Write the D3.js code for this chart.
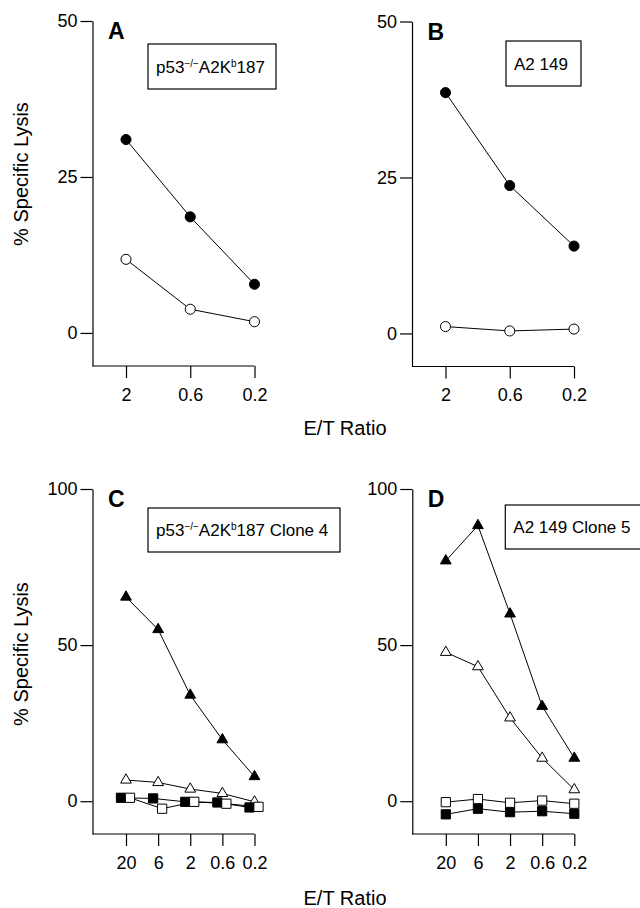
<!DOCTYPE html>
<html>
<head>
<meta charset="utf-8">
<script src="https://cdn.jsdelivr.net/npm/d3@7"></script>
<style>
  body { margin: 0; background: #fff; }
  svg { display: block; font-family: "Liberation Sans", Arial, Helvetica, sans-serif; }
  .axis path, .axis line { stroke: #000; stroke-width: 1.2px; }
  .axis text { font-size: 18px; fill: #000; }
</style>
</head>
<body>
<div id="chart"></div>
<script>
// E/T ratios and y ticks
const ratiosTop = ["2", "0.6", "0.2"];
const ratiosBottom = ["20", "6", "2", "0.6", "0.2"];
const ticksTop = [0, 25, 50];
const ticksBottom = [0, 50, 100];

// A : p53-/- A2Kb187
const aFilledCircle = [31, 18.6, 7.8];
const aOpenCircle = [11.8, 3.8, 1.8];

// B : A2 149
const bFilledCircle = [38.6, 23.7, 14.0];
const bOpenCircle = [1.1, 0.4, 0.7];

// C : p53-/- A2Kb187 Clone 4
const cFilledTri = [65.4, 55, 34, 19.7, 7.9];
const cOpenTri = [6.8, 6.0, 3.9, 2.5, -0.2];
const cFilledSq = [1.1, 0.9, -0.2, -0.4, -2.0];
const cOpenSq = [1.1, -2.4, -0.2, -0.8, -1.8];

// D : A2 149 Clone 5
const dFilledTri = [77, 88.3, 60, 30.4, 13.8];
const dOpenTri = [47.7, 43.1, 26.7, 13.8, 3.7];
const dOpenSq = [-0.3, 0.7, -0.5, 0.2, -0.8];
const dFilledSq = [-4.2, -2.4, -3.5, -3.2, -4.0];

// box labels, sup = superscript
const labelA = [{ t: "p53" }, { t: "−/−", sup: true }, { t: "A2K" }, { t: "b", sup: true }, { t: "187" }];
const labelB = [{ t: "A2 149" }];
const labelC = labelA.concat([{ t: " Clone 4" }]);
const labelD = [{ t: "A2 149 Clone 5" }];

const width = 640, height = 908;

const svg = d3.select("#chart").append("svg")
    .attr("width", width)
    .attr("height", height);

function Panel(opts) {
	this.left = opts.left;
	this.top = opts.top;
	this.w = 162;
	this.h = 345;
	this.opts = opts;
};

Panel.prototype = {
	constructor: Panel,

	draw: function() {
		let self = this;
		let o = self.opts;

		let g = svg.append("g")
			.attr("transform", "translate(" + self.left + "," + self.top + ")");

		let x = d3.scalePoint()
			.domain(o.ratios)
			.range([33.5, self.w]);

		let y = d3.scaleLinear()
			.domain(o.yDomain)
			.range([self.h, 0]);

		// y axis
		g.append("g")
			.attr("class", "axis")
			.call(d3.axisLeft(y).tickValues(o.ticks).tickSize(12).tickSizeOuter(0).tickPadding(3));

		// x axis, line runs from the y axis to the last tick
		g.append("line")
			.attr("x1", 0).attr("x2", self.w)
			.attr("y1", self.h).attr("y2", self.h)
			.attr("stroke", "#000")
			.attr("stroke-width", 1.2);

		let xa = g.append("g")
			.attr("class", "axis")
			.attr("transform", "translate(0," + self.h + ")")
			.call(d3.axisBottom(x).tickSize(12).tickPadding(10));
		xa.select(".domain").remove();

		// series
		o.series.forEach(function(s) {
			let pts = s.values.map(function(v, i) {
				return [x(o.ratios[i]) + (s.dx || 0), y(v)];
			});

			g.append("path")
				.attr("d", d3.line()(pts))
				.attr("fill", "none")
				.attr("stroke", "#000")
				.attr("stroke-width", 1);

			let sym = d3.symbol().type(s.type).size(s.size);

			g.selectAll(null)
				.data(pts)
				.enter()
				.append("path")
				.attr("d", sym)
				.attr("transform", function(d) { return "translate(" + d[0] + "," + d[1] + ")"; })
				.attr("fill", s.filled ? "#000" : "#fff")
				.attr("stroke", "#000")
				.attr("stroke-width", 1);
		});

		// panel letter
		g.append("text")
			.attr("x", 15.5)
			.attr("y", 18)
			.attr("font-size", 23)
			.attr("font-weight", "bold")
			.text(o.letter);

		// label box
		let b = o.box;
		g.append("rect")
			.attr("x", b.x).attr("y", b.y)
			.attr("width", b.w).attr("height", b.h)
			.attr("fill", "#fff")
			.attr("stroke", "#000")
			.attr("stroke-width", 1.2);

		let t = g.append("text")
			.attr("x", b.x + 8)
			.attr("y", b.y + b.h / 2 + 6)
			.attr("font-size", 17);

		let shifted = false;
		o.label.forEach(function(p) {
			let ts = t.append("tspan").text(p.t);
			if (p.sup) {
				ts.attr("font-size", 10).attr("dy", -6);
				shifted = true;
			} else if (shifted) {
				ts.attr("dy", 6);
				shifted = false;
			}
		});
	}
};

let circle = d3.symbolCircle, tri = d3.symbolTriangle, sq = d3.symbolSquare;

let panels = [
	new Panel({ left: 92.5, top: 21, letter: "A", ratios: ratiosTop, ticks: ticksTop, yDomain: [-5.3, 50],
		box: { x: 55.5, y: 23, w: 128, h: 45 }, label: labelA,
		series: [
			{ values: aFilledCircle, type: circle, size: 80, filled: true },
			{ values: aOpenCircle, type: circle, size: 80, filled: false }
		] }),
	new Panel({ left: 412, top: 21.5, letter: "B", ratios: ratiosTop, ticks: ticksTop, yDomain: [-5.3, 50],
		box: { x: 94, y: 19.5, w: 75, h: 45 }, label: labelB,
		series: [
			{ values: bFilledCircle, type: circle, size: 80, filled: true },
			{ values: bOpenCircle, type: circle, size: 80, filled: false }
		] }),
	new Panel({ left: 92.5, top: 489, letter: "C", ratios: ratiosBottom, ticks: ticksBottom, yDomain: [-10.5, 100],
		box: { x: 55.5, y: 19, w: 192, h: 44 }, label: labelC,
		series: [
			{ values: cFilledTri, type: tri, size: 50, filled: true },
			{ values: cOpenTri, type: tri, size: 50, filled: false },
			{ values: cFilledSq, type: sq, size: 85, filled: true, dx: -5 },
			{ values: cOpenSq, type: sq, size: 85, filled: false, dx: 4 }
		] }),
	new Panel({ left: 412.3, top: 489, letter: "D", ratios: ratiosBottom, ticks: ticksBottom, yDomain: [-10.5, 100],
		box: { x: 93, y: 16, w: 240, h: 44 }, label: labelD,
		series: [
			{ values: dFilledTri, type: tri, size: 50, filled: true },
			{ values: dOpenTri, type: tri, size: 50, filled: false },
			{ values: dFilledSq, type: sq, size: 85, filled: true },
			{ values: dOpenSq, type: sq, size: 85, filled: false }
		] })
];

panels.forEach(function(p) { p.draw(); });

// shared axis titles
[174, 654].forEach(function(cy) {
	svg.append("text")
		.attr("transform", "translate(28," + cy + ") rotate(-90)")
		.attr("text-anchor", "middle")
		.attr("font-size", 20)
		.text("% Specific Lysis");
});

[435, 905].forEach(function(by) {
	svg.append("text")
		.attr("x", 345)
		.attr("y", by)
		.attr("text-anchor", "middle")
		.attr("font-size", 20)
		.text("E/T Ratio");
});
</script>
</body>
</html>
